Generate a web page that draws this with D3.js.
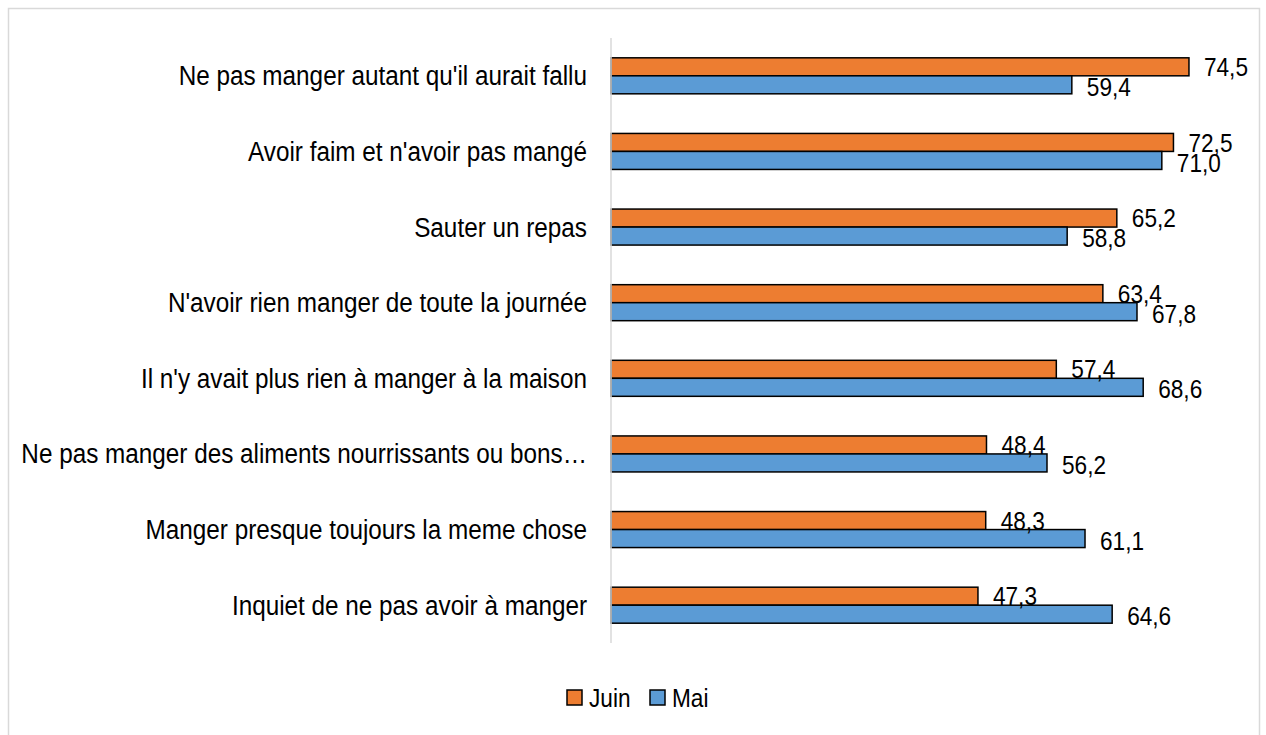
<!DOCTYPE html>
<html>
<head>
<meta charset="utf-8">
<script src="https://cdn.jsdelivr.net/npm/d3@7"></script>
<style>
  body { margin: 0; background: #fff; }
  svg text { font-family: "Liberation Sans Narrow", "Arial Narrow", "Liberation Sans", sans-serif; fill: #000; }
</style>
</head>
<body>
<div id="chart"></div>
<script>
// categories (top to bottom)
var categories = [
  "Ne pas manger autant qu'il aurait fallu",
  "Avoir faim et n'avoir pas mangé",
  "Sauter un repas",
  "N'avoir rien manger de toute la journée",
  "Il n'y avait plus rien à manger à la maison",
  "Ne pas manger des aliments nourrissants ou bons…",
  "Manger presque toujours la meme chose",
  "Inquiet de ne pas avoir à manger"
];
var juin = [74.5, 72.5, 65.2, 63.4, 57.4, 48.4, 48.3, 47.3];
var mai = [59.4, 71.0, 58.8, 67.8, 68.6, 56.2, 61.1, 64.6];
var seriesNames = ["Juin", "Mai"];
var seriesColors = ["#ED7D31", "#5B9BD5"];

var width = 1266;
var height = 735;
var sx = 0.87; // police etroite simulee

var svg = d3.select('#chart')
    .append('svg')
    .attr('width', width)
    .attr('height', height);

// cadre
svg.append("rect")
    .attr("x", 8.5)
    .attr("y", 8.5)
    .attr("width", 1251)
    .attr("height", 740)
    .attr("fill", "none")
    .attr("stroke", "#d9d9d9")
    .attr("stroke-width", 1.5);

var x0 = 611;
var xscale = d3.scaleLinear()
    .domain([0, 80])
    .range([x0, x0 + 7.758 * 80]);

var yscale = d3.scaleBand()
    .domain(categories)
    .range([38, 643]);

var groups = [juin, mai];
var barH = 18;

var rows = svg.selectAll('g.row')
    .data(categories)
    .enter()
    .append('g')
    .attr('class', 'row')
    .attr('transform', function(d) {
        return "translate(0," + (yscale(d) + yscale.bandwidth() / 2) + ")";
    });

groups.forEach(function(vals, s) {
    rows.append('rect')
        .attr('x', xscale(0))
        .attr('y', function() { return s === 0 ? -barH : 0; })
        .attr('width', function(d, i) { return xscale(vals[i]) - xscale(0); })
        .attr('height', barH)
        .attr('fill', seriesColors[s])
        .attr('stroke', '#000')
        .attr('stroke-width', 1.5);
});

// eje vertical
svg.append("line")
    .attr("x1", x0)
    .attr("x2", x0)
    .attr("y1", 38)
    .attr("y2", 643)
    .attr("stroke", "#d9d9d9")
    .attr("stroke-width", 1.5);

// etiquetas de valores
groups.forEach(function(vals, s) {
    rows.append('g')
        .attr('transform', function(d, i) {
            return "translate(" + (xscale(vals[i]) + 15) + "," + (s === 0 ? -barH / 2 : barH / 2 + 2) + ") scale(" + sx + ",1)";
        })
        .append('text')
        .attr('dy', '0.35em')
        .style('font-size', '26px')
        .text(function(d, i) { return d3.format(".1f")(vals[i]).replace(".", ","); });
});

// etiquetas de categorias
rows.append('g')
    .attr('transform', "translate(587,0) scale(" + 0.9 + ",1)")
    .append('text')
    .attr('dy', '0.35em')
    .attr('text-anchor', 'end')
    .style('font-size', '27px')
    .text(function(d) { return d; });

// leyenda
var legend = svg.append('g')
    .attr('transform', 'translate(567,698)');
var lx = [0, 83];
seriesNames.forEach(function(name, s) {
    legend.append('rect')
        .attr('x', lx[s])
        .attr('y', -8)
        .attr('width', 15)
        .attr('height', 15)
        .attr('fill', seriesColors[s])
        .attr('stroke', '#000')
        .attr('stroke-width', 1.5);
    legend.append('g')
        .attr('transform', "translate(" + (lx[s] + 22) + ",0) scale(" + sx + ",1)")
        .append('text')
        .attr('dy', '0.35em')
        .style('font-size', '26px')
        .text(name);
});
</script>
</body>
</html>
